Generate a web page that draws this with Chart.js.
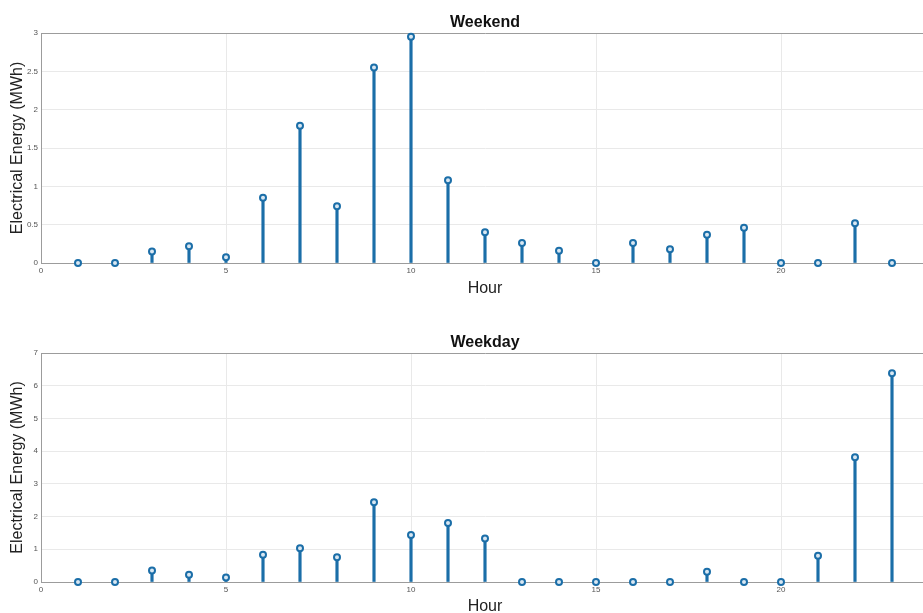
<!DOCTYPE html>
<html><head><meta charset="utf-8">
<script src="https://cdn.jsdelivr.net/npm/chart.js@4.4.1/dist/chart.umd.min.js"></script>
<style>
html,body{margin:0;padding:0;background:#fff;overflow:hidden;width:923px;height:613px;}
canvas{position:absolute;left:0;}
#c1{top:0}
#c2{top:313px}
</style></head><body>
<canvas id="c1" width="934" height="300"></canvas>
<canvas id="c2" width="934" height="303"></canvas>
<script>
const hours = [1,2,3,4,5,6,7,8,9,10,11,12,13,14,15,16,17,18,19,20,21,22,23];
const weekendEnergy = [0,0,0.15,0.22,0.075,0.85,1.79,0.74,2.55,2.95,1.08,0.40,0.26,0.16,0,0.26,0.18,0.37,0.46,0,0,0.52,0];
const weekdayEnergy = [0,0,0.35,0.22,0.14,0.83,1.03,0.76,2.44,1.44,1.80,1.33,0,0,0,0,0,0.31,0,0,0.80,3.81,6.38];
const xTickValues = [0,5,10,15,20];
const titles = ['Weekend','Weekday'];
const xLabel = 'Hour';
const yLabel = 'Electrical Energy (MWh)';

const FONT = 'Liberation Sans, Arial, Helvetica, sans-serif';
Chart.defaults.font.family = FONT;
const stemColor = '#1b6ea8';
const gridColor = '#e9e9e9';
const boxColor = '#9c9c9c';

function makeStem(id, title, values, yMax, yStep, topH, titlePad, bottomH, hourPad) {
  const pts = hours.map((h,i)=>({x:h, y:values[i]}));
  return new Chart(document.getElementById(id), {
    type: 'bar',
    data: { datasets: [
      { type:'line', data: pts, showLine:false, pointRadius:3, pointHoverRadius:3, pointBorderWidth:2,
        pointBorderColor: stemColor, pointBackgroundColor:'#d9e7f2', clip:false, order:0 },
      { type:'bar', data: pts, backgroundColor: stemColor, barThickness:2.5, order:1 }
    ]},
    options: {
      responsive:false, animation:false,
      layout:{padding:0},
      plugins:{legend:{display:false}, tooltip:{enabled:false}, title:{display:false}},
      scales: {
        x: { type:'linear', position:'bottom', min:0, max:24, offset:false,
             afterBuildTicks: s => { s.ticks = xTickValues.map(v=>({value:v})); },
             ticks:{ font:{size:8}, color:'#555', padding:3, maxRotation:0, autoSkip:false },
             grid:{ color:gridColor, drawTicks:false, offset:false },
             border:{ color:boxColor },
             title:{ display:true, text:xLabel, color:'#222', font:{size:16, lineHeight:1}, padding:{top:0,bottom:hourPad} },
             afterFit: s => { s.height = bottomH; } },
        x2: { type:'linear', position:'top', min:0, max:24, offset:false,
             ticks:{ display:false }, grid:{ display:false },
             border:{ display:true, color:boxColor },
             title:{ display:true, text:title, color:'#111', font:{size:16, weight:'bold', lineHeight:1}, padding:{top:titlePad,bottom:0} },
             afterFit: s => { s.height = topH; } },
        y: { min:0, max:yMax,
             ticks:{ stepSize:yStep, font:{size:8}, color:'#555', padding:3,
                     callback: v => String(Math.round(v*10)/10) },
             grid:{ color:gridColor, drawTicks:false },
             border:{ color:boxColor },
             title:{ display:true, text:yLabel, color:'#222', font:{size:16, lineHeight:1}, padding:{top:10,bottom:0} },
             afterFit: s => { s.width = 41; } }
      }
    }
  });
}
makeStem('c1', titles[0], weekendEnergy, 3, 0.5, 33, 15, 37, 3);
makeStem('c2', titles[1], weekdayEnergy, 7, 1, 40, 22, 34, 1);
</script>
</body></html>
